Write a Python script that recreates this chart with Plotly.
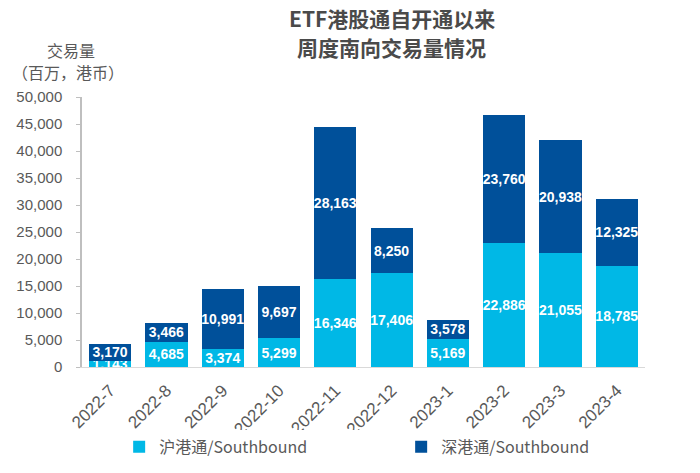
import plotly.graph_objects as go

months = ["2022-7", "2022-8", "2022-9", "2022-10", "2022-11", "2022-12",
          "2023-1", "2023-2", "2023-3", "2023-4"]
sh_values = [1143, 4685, 3374, 5299, 16346, 17406, 5169, 22886, 21055, 18785]
sz_values = [3170, 3466, 10991, 9697, 28163, 8250, 3578, 23760, 20938, 12325]
y_ticks = [0, 5000, 10000, 15000, 20000, 25000, 30000, 35000, 40000, 45000, 50000]
y_ticklabels = [f"{v:,}" for v in y_ticks]
title_lines = ["ETF港股通自开通以来", "周度南向交易量情况"]

LIGHT = "#00B8E6"
DARK = "#00509A"
GRAY = "#595959"
TICKFONT = "Liberation Sans"

fig = go.Figure()
fig.add_trace(go.Bar(
    x=months, y=sh_values, name="沪港通/Southbound",
    marker=dict(color=LIGHT, line=dict(width=0)),
    text=[f"{v:,}" for v in sh_values], textposition="inside",
    insidetextanchor="middle", textangle=0, constraintext="none",
    textfont=dict(family="Liberation Sans", size=14, color="white", weight="bold"),
))
fig.add_trace(go.Bar(
    x=months, y=sz_values, name="深港通/Southbound",
    marker=dict(color=DARK, line=dict(width=0)),
    text=[f"{v:,}" for v in sz_values], textposition="inside",
    insidetextanchor="middle", textangle=0, constraintext="none",
    textfont=dict(family="Liberation Sans", size=14, color="white", weight="bold"),
))

fig.update_layout(
    width=692, height=465,
    barmode="stack", bargap=0.25,
    plot_bgcolor="white", paper_bgcolor="white",
    margin=dict(l=74, r=55, t=89, b=106, autoexpand=False),
    showlegend=True,
    legend=dict(
        orientation="h", x=0.066, xanchor="left", y=-0.296, yanchor="middle",
        font=dict(family="Noto Sans CJK SC", size=16, color=GRAY),
        entrywidth=237, entrywidthmode="pixels", traceorder="normal",
    ),
    xaxis=dict(
        type="category", tickangle=-45, showline=True, linecolor="#D9D9D9",
        linewidth=1, ticks="", showgrid=False, ticklabelstandoff=6,
        tickfont=dict(family=TICKFONT, size=17, color=GRAY),
    ),
    yaxis=dict(
        range=[0, 50000], tickvals=y_ticks, ticktext=y_ticklabels,
        showline=True, linecolor="#BFBFBF", linewidth=1.5, ticks="outside",
        ticklen=4, tickcolor="#BFBFBF", showgrid=False, zeroline=False,
        ticklabelstandoff=11,
        tickfont=dict(family=TICKFONT, size=15, color=GRAY),
    ),
)

# Title as two centered annotation lines
for txt, yy in zip(title_lines, [1.2926, 1.1852]):
    fig.add_annotation(
        text=f"<b>{txt}</b>", xref="paper", yref="paper",
        x=0.55, y=yy, xanchor="center", yanchor="middle", showarrow=False,
        font=dict(family="Noto Sans CJK SC", size=21, color="#4a4a4a"),
    )

fig.add_annotation(
    text="交易量", xref="paper", yref="paper",
    x=-0.0195, y=1.174, xanchor="center", yanchor="middle", showarrow=False,
    font=dict(family="Noto Sans CJK SC", size=16, color=GRAY),
)
fig.add_annotation(
    text="（百万，港币）", xref="paper", yref="paper",
    x=-0.025, y=1.093, xanchor="center", yanchor="middle", showarrow=False,
    font=dict(family="Noto Sans CJK SC", size=16, color=GRAY),
)

fig.write_html("out.html")
